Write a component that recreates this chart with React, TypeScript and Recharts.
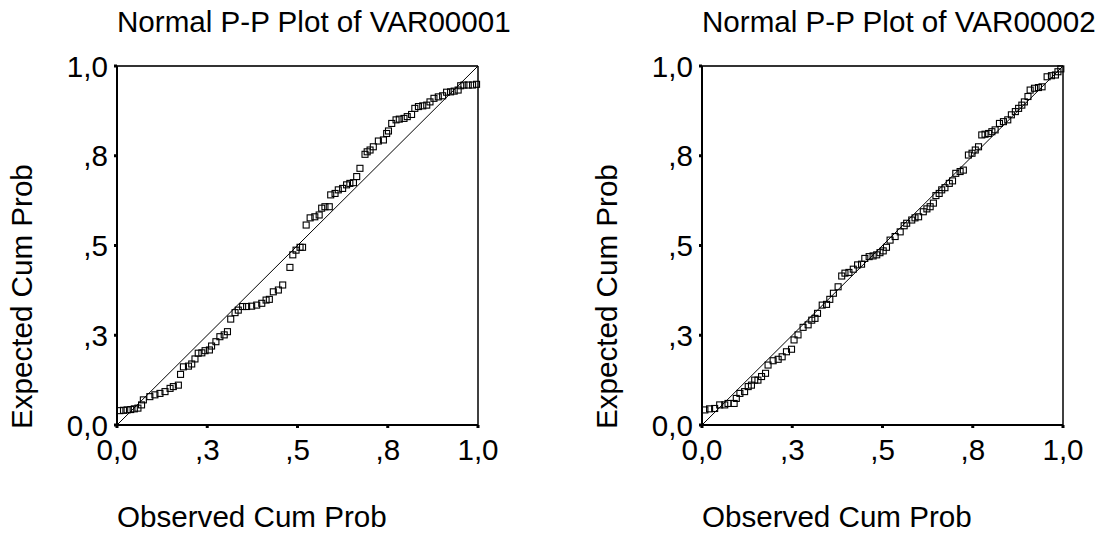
import { ScatterChart, Scatter, XAxis, YAxis, ReferenceLine } from 'recharts';

const FONT = '"Liberation Sans", Arial, sans-serif';
const FONT_SIZE = 29.6;

const ticks = [0, 0.25, 0.5, 0.75, 1];
const tickLabels = ['0,0', ',3', ',5', ',8', '1,0'];

// VAR00001: observed vs expected cumulative probability
const var1Observed = [
  0.008, 0.018, 0.028, 0.038, 0.048, 0.058, 0.068, 0.073, 0.091, 0.105,
  0.119, 0.133, 0.147, 0.156, 0.17, 0.176, 0.184, 0.198, 0.207, 0.216,
  0.225, 0.235, 0.244, 0.256, 0.262, 0.274, 0.285, 0.297, 0.306, 0.315,
  0.327, 0.336, 0.348, 0.359, 0.373, 0.387, 0.401, 0.413, 0.422, 0.433,
  0.447, 0.459, 0.479, 0.487, 0.496, 0.507, 0.514, 0.524, 0.535, 0.548,
  0.56, 0.567, 0.576, 0.588, 0.592, 0.604, 0.613, 0.625, 0.636, 0.645,
  0.655, 0.664, 0.673, 0.687, 0.693, 0.701, 0.71, 0.724, 0.738, 0.747,
  0.752, 0.761, 0.773, 0.782, 0.795, 0.804, 0.816, 0.825, 0.835, 0.847,
  0.858, 0.867, 0.878, 0.89, 0.902, 0.913, 0.924, 0.934, 0.945, 0.952,
  0.961, 0.973, 0.985, 0.996,
];
const var1Expected = [
  0.04, 0.041, 0.042, 0.043, 0.045, 0.047, 0.056, 0.07, 0.079, 0.084,
  0.088, 0.093, 0.102, 0.107, 0.111, 0.141, 0.162, 0.164, 0.17, 0.184,
  0.2, 0.201, 0.207, 0.209, 0.22, 0.232, 0.246, 0.251, 0.26, 0.295,
  0.313, 0.32, 0.33, 0.33, 0.331, 0.334, 0.339, 0.348, 0.35, 0.371,
  0.376, 0.39, 0.439, 0.474, 0.487, 0.495, 0.495, 0.557, 0.577, 0.58,
  0.585, 0.604, 0.608, 0.608, 0.641, 0.645, 0.655, 0.659, 0.669, 0.673,
  0.675, 0.692, 0.715, 0.754, 0.761, 0.766, 0.775, 0.791, 0.794, 0.812,
  0.819, 0.84, 0.85, 0.852, 0.854, 0.859, 0.865, 0.882, 0.887, 0.889,
  0.891, 0.9, 0.91, 0.914, 0.917, 0.927, 0.928, 0.93, 0.933, 0.945,
  0.947, 0.947, 0.947, 0.949,
];

// VAR00002
const var2Observed = [
  0.008, 0.021, 0.035, 0.049, 0.063, 0.072, 0.089, 0.095, 0.105, 0.118,
  0.128, 0.137, 0.146, 0.155, 0.165, 0.176, 0.183, 0.197, 0.211, 0.222,
  0.234, 0.248, 0.255, 0.266, 0.28, 0.294, 0.304, 0.313, 0.32, 0.333,
  0.345, 0.354, 0.364, 0.377, 0.387, 0.396, 0.407, 0.419, 0.431, 0.442,
  0.451, 0.463, 0.474, 0.484, 0.493, 0.502, 0.511, 0.521, 0.535, 0.549,
  0.56, 0.567, 0.581, 0.59, 0.6, 0.613, 0.623, 0.632, 0.641, 0.648,
  0.657, 0.664, 0.673, 0.685, 0.694, 0.703, 0.715, 0.724, 0.738, 0.748,
  0.757, 0.766, 0.775, 0.784, 0.794, 0.803, 0.812, 0.824, 0.835, 0.847,
  0.857, 0.868, 0.877, 0.886, 0.893, 0.903, 0.909, 0.921, 0.932, 0.942,
  0.956, 0.968, 0.979, 0.986, 0.994,
];
const var2Expected = [
  0.042, 0.045, 0.046, 0.056, 0.056, 0.06, 0.06, 0.074, 0.088, 0.093,
  0.107, 0.111, 0.125, 0.125, 0.135, 0.144, 0.167, 0.179, 0.183, 0.19,
  0.204, 0.211, 0.237, 0.251, 0.272, 0.279, 0.292, 0.297, 0.311, 0.334,
  0.336, 0.35, 0.367, 0.385, 0.415, 0.423, 0.425, 0.434, 0.446, 0.448,
  0.464, 0.469, 0.471, 0.474, 0.48, 0.485, 0.495, 0.515, 0.525, 0.538,
  0.555, 0.562, 0.571, 0.577, 0.58, 0.594, 0.602, 0.608, 0.618, 0.639,
  0.645, 0.655, 0.661, 0.673, 0.68, 0.701, 0.706, 0.71, 0.752, 0.757,
  0.766, 0.775, 0.808, 0.81, 0.812, 0.817, 0.822, 0.84, 0.845, 0.85,
  0.864, 0.873, 0.882, 0.891, 0.9, 0.915, 0.933, 0.938, 0.94, 0.942,
  0.97, 0.973, 0.975, 0.984, 0.992,
];

const fmtTick = (v: number) => tickLabels[ticks.indexOf(v)] ?? '';

const Square = (props: any) => (
  <rect x={props.cx - 3} y={props.cy - 3} width={6} height={6} fill="none" stroke="#000" strokeWidth={1.1} />
);

interface PlotProps {
  title: string;
  observed: number[];
  expected: number[];
  width: number;
  marginRight: number;
}

function PPPlot({ title, observed, expected, width, marginRight }: PlotProps) {
  const data = observed.map((x, i) => ({ x, y: expected[i] }));
  const tickStyle = { fill: '#000', fontSize: FONT_SIZE, fontFamily: FONT };

  return (
    <ScatterChart width={width} height={537} margin={{ top: 66, right: marginRight, bottom: 72, left: 37 }}>
      <XAxis
        type="number"
        dataKey="x"
        domain={[0, 1]}
        ticks={ticks}
        interval={0}
        tickFormatter={fmtTick}
        height={40}
        tickSize={3}
        tickMargin={11}
        axisLine={{ stroke: '#000', strokeWidth: 2 }}
        tickLine={{ stroke: '#000', strokeWidth: 3 }}
        tick={tickStyle}
      />
      <YAxis
        type="number"
        dataKey="y"
        domain={[0, 1]}
        ticks={ticks}
        interval={0}
        tickFormatter={fmtTick}
        width={80}
        tickSize={3}
        tickMargin={6}
        axisLine={{ stroke: '#000', strokeWidth: 2 }}
        tickLine={{ stroke: '#000', strokeWidth: 3 }}
        tick={tickStyle}
      />
      <ReferenceLine y={1} stroke="#333" strokeWidth={2} />
      <ReferenceLine x={1} stroke="#000" strokeWidth={1.5} />
      <ReferenceLine segment={[{ x: 0, y: 0 }, { x: 1, y: 1 }]} stroke="#000" strokeWidth={1} />
      <Scatter data={data} shape={Square} isAnimationActive={false} />
      <text x={117} y={32} fontSize={FONT_SIZE} fontFamily={FONT} fill="#000">{title}</text>
      <text x={117} y={527} fontSize={FONT_SIZE} fontFamily={FONT} fill="#000">Observed Cum Prob</text>
      <text x={32} y={429} transform="rotate(-90 32 429)" fontSize={FONT_SIZE} fontFamily={FONT} fill="#000">Expected Cum Prob</text>
    </ScatterChart>
  );
}

export default function App() {
  return (
    <div style={{ position: 'absolute', left: 0, top: 0, width: 1107, height: 537, background: '#fff', overflow: 'hidden' }}>
      <div style={{ position: 'absolute', left: 0, top: 0 }}>
        <PPPlot title="Normal P-P Plot of VAR00001" observed={var1Observed} expected={var1Expected} width={553} marginRight={75} />
      </div>
      <div style={{ position: 'absolute', left: 585, top: 0 }}>
        <PPPlot title="Normal P-P Plot of VAR00002" observed={var2Observed} expected={var2Expected} width={522} marginRight={44} />
      </div>
    </div>
  );
}
